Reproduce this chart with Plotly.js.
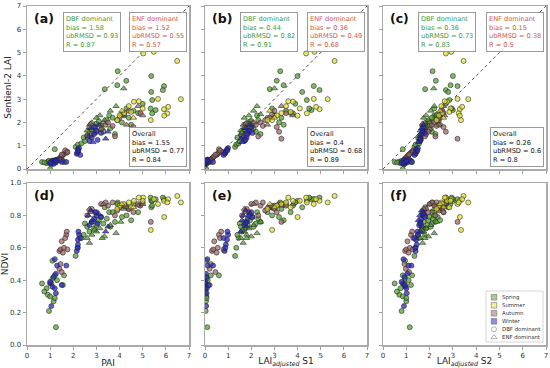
<!DOCTYPE html>
<html><head><meta charset="utf-8">
<script src="https://cdn.plot.ly/plotly-3.0.1.min.js"></script>
<style>body{margin:0;background:#fff;}#chart{width:550px;height:368px;}</style>
</head><body><div id="chart"></div>
<script>
// ---------------- DATA ----------------
// season: S=Spring, U=Summer, A=Autumn, W=Winter ; forest: D=DBF dominant, E=ENF dominant
const season = (
  "WWWWWWWWWWWW" + "WWWWWWW" + "WWWWWWWWWWWWW" +
  "SSSSSSSSSSSSSSSS" + "AAAAAAAAAAAA" +
  "SSSSSSSSSSSSSSSSSSSSSSSSSSSS" + "SSSSSSSS" + "SSSSSSSSSSSSSS" +
  "UUUUUUUUUUUUUUUUUUUU" + "AAAAAAAAAAAAAAAAAAAAAA").split("");
const forest = (
  "DDDDDDDDDDDD" + "DDDDDDD" + "DDDDDDDEEEEEE" +
  "DDDDDDDDDDDDDDDD" + "DDDDDDDDDDDD" +
  "DDDDDDDDDDDDDDDDDEEEEEEEEEEE" + "DDDDDDDE" + "DDDDDDDDDDDDDD" +
  "DDDDDDDDDDDDDDDDDDEE" + "DDDDDDDDDDDDDDDDEEEEEE").split("");
const pai = [
  1.00,1.05,1.10,1.20,1.25,1.20,1.15,1.30,1.50,1.00,1.25,1.70,
  2.15,2.20,2.20,2.25,2.18,2.22,2.30,
  2.70,2.80,2.90,3.00,3.05,2.95,3.20, 2.65,2.75,2.85,3.10,3.40,3.50,
  0.65,0.85,0.90,0.95,1.00,1.05,1.10,1.15,1.20,1.25,1.20,1.30,0.75,1.55,1.60,1.10,
  1.40,1.45,1.50,1.55,1.60,1.70,1.72,1.65,1.45,1.40,1.75,1.50,
  2.10,2.20,2.35,2.50,2.60,2.70,2.80,2.90,3.00,3.10,3.20,3.30,3.45,3.60,3.80,2.45,3.55,
  2.60,2.70,2.80,3.00,3.15,3.35,3.60,3.85,4.05,2.90,3.25,
  3.36,3.92,4.29,3.90,5.37,5.92,5.87, 4.18,
  4.20,4.40,4.60,4.80,5.00,5.37,5.41,5.41,5.56,5.34,4.10,4.50,3.70,4.30,
  5.02,5.48,6.49,6.65,5.66,5.92,6.10,6.06,5.93,5.35,4.62,4.83,4.40,4.20,4.00,5.00,4.50,3.90, 4.60,4.10,
  2.60,2.80,3.20,3.40,3.50,3.70,3.90,4.00,4.20,4.40,4.60,4.80,5.35,4.90,3.00,3.80, 2.70,2.75,3.30,4.30,4.80,5.00];
const laiS1 = [
  0.02,0.05,0.03,0.08,0.04,0.10,0.06,0.12,0.15,0.01,0.07,0.35,
  0.85,0.90,0.95,1.00,0.88,0.97,0.80,
  1.70,1.80,1.85,1.90,1.75,2.00,2.05, 1.65,1.75,1.60,1.95,1.55,1.80,
  0.00,0.02,0.00,0.03,0.05,0.00,0.08,0.04,0.60,0.10,0.07,0.12,0.01,0.20,0.25,0.05,
  0.30,0.35,0.40,0.50,0.55,0.60,0.70,0.65,0.25,0.20,0.80,0.45,
  1.30,1.35,1.45,1.50,1.55,1.60,1.70,1.75,1.85,1.95,2.05,2.20,2.30,2.10,2.40,1.40,2.25,
  1.55,1.65,1.80,1.70,1.90,2.00,2.10,2.25,2.40,1.60,1.80,
  2.80,3.25,3.10,3.40,4.00,4.70,4.95, 3.00,
  3.00,3.30,3.50,3.70,3.90,4.20,4.40,3.80,4.60,4.50,3.20,3.40,2.70,2.90,
  4.37,4.73,5.60,5.30,4.70,4.95,4.80,4.40,4.00,2.90,3.80,3.60,3.50,3.30,3.10,4.10,3.70,2.70, 3.00,2.80,
  1.60,1.80,2.00,2.20,2.40,2.50,2.60,2.80,2.90,3.00,3.10,3.20,3.30,3.50,1.90,2.30, 1.70,1.75,2.10,2.70,3.30,3.80];
const laiS2 = [
  0.85,0.90,0.95,1.00,1.05,0.88,0.92,1.10,0.95,0.80,1.02,1.22,
  1.40,1.45,1.42,1.50,1.38,1.48,1.35,
  1.55,1.60,1.65,1.70,1.62,1.72,1.80, 1.58,1.66,1.52,1.75,1.60,1.70,
  0.50,0.75,0.70,0.80,0.85,0.90,0.95,1.00,0.85,1.15,1.00,1.10,0.60,1.20,1.25,0.95,
  0.95,1.00,1.05,1.10,1.15,1.20,1.25,1.30,0.92,0.98,1.28,1.12,
  1.35,1.40,1.55,1.60,1.65,1.70,1.75,1.85,1.90,1.95,2.00,2.10,2.15,2.05,2.25,1.50,2.20,
  1.60,1.70,1.80,1.75,1.85,1.95,2.05,2.20,2.30,1.65,1.80,
  1.81,2.13,2.27,2.90,3.00,3.20,2.70, 2.18,
  2.30,2.40,2.50,2.60,2.70,2.80,2.85,2.55,3.00,2.95,2.35,2.45,2.10,2.20,
  2.70,2.93,3.46,3.66,3.20,3.30,3.40,3.25,3.30,3.35,2.75,2.65,2.50,2.55,2.40,2.90,2.85,2.30, 2.60,2.45,
  1.80,1.85,2.00,2.10,2.20,2.30,2.40,2.45,2.50,2.55,2.60,2.70,3.20,2.50,1.95,2.25, 1.75,1.70,2.00,2.40,2.60,2.65];
const s2lai = [
  0.25,0.30,0.35,0.32,0.28,0.38,0.22,0.40,0.30,0.27,0.35,0.30,
  0.65,0.75,0.85,0.90,0.70,0.80,0.60,
  1.20,1.35,1.50,1.65,1.25,1.80,1.55, 1.40,1.75,1.15,1.90,1.30,1.60,
  0.30,0.25,0.32,0.35,0.00,0.20,0.28,0.34,0.85,0.38,0.30,0.40,0.28,0.35,0.30,0.36,
  0.45,0.50,0.55,0.60,0.65,0.70,0.75,0.80,0.40,0.38,0.72,0.62,
  0.95,1.05,1.10,1.20,1.45,1.60,1.70,1.80,1.95,2.05,1.85,1.60,2.10,1.75,1.50,1.35,2.30,
  1.65,1.90,2.00,2.20,2.30,2.10,2.50,2.70,2.35,1.55,1.75,
  3.43,4.20,3.79,3.60,3.99,3.56,3.39, 3.46,
  2.30,2.20,2.50,2.40,2.80,3.31,2.96,2.39,2.53,2.60,2.00,1.90,2.20,2.60,
  4.96,5.03,4.64,3.00,3.01,2.57,2.67,2.39,2.29,2.10,2.89,2.91,2.70,2.40,2.30,2.60,2.45,2.10, 2.20,2.50,
  1.40,1.50,1.70,1.90,2.00,1.85,2.10,2.20,2.35,2.50,1.80,1.60,1.30,2.40,1.60,1.40, 1.80,1.95,2.00,1.90,2.70,2.30];
const ndvi = [
  0.38,0.24,0.36,0.35,0.44,0.53,0.42,0.49,0.37,0.39,0.32,0.49,
  0.58,0.62,0.65,0.68,0.60,0.70,0.66,
  0.74,0.76,0.78,0.80,0.75,0.82,0.79, 0.80,0.83,0.77,0.81,0.70,0.73,
  0.38,0.35,0.31,0.21,0.30,0.38,0.41,0.27,0.43,0.11,0.29,0.40,0.33,0.37,0.43,0.52,
  0.58,0.59,0.64,0.57,0.60,0.68,0.70,0.66,0.50,0.47,0.59,0.45,
  0.55,0.60,0.66,0.75,0.73,0.70,0.76,0.72,0.74,0.77,0.79,0.75,0.78,0.73,0.76,0.68,0.82,
  0.66,0.63,0.68,0.70,0.72,0.67,0.74,0.69,0.76,0.71,0.66,
  0.85,0.88,0.86,0.87,0.89,0.90,0.91, 0.84,
  0.86,0.84,0.87,0.82,0.88,0.85,0.89,0.86,0.90,0.91,0.79,0.77,0.82,0.80,
  0.91,0.90,0.92,0.88,0.87,0.89,0.90,0.88,0.79,0.71,0.89,0.91,0.88,0.87,0.86,0.89,0.85,0.84, 0.85,0.87,
  0.80,0.84,0.87,0.88,0.86,0.88,0.83,0.85,0.86,0.84,0.82,0.87,0.76,0.86,0.82,0.80, 0.84,0.82,0.87,0.85,0.86,0.87];

const panelLetters = ["(a)","(b)","(c)","(d)","(e)","(f)"];
const dbfStats = [[1.58,0.93,0.87],[0.44,0.82,0.91],[0.36,0.73,0.83]];
const enfStats = [[1.52,0.55,0.57],[0.36,0.49,0.68],[0.15,0.38,0.5]];
const allStats = [[1.55,0.77,0.84],[0.4,0.68,0.89],[0.26,0.6,0.8]];
const seasonCodes = ["S","U","A","W"];
const drawOrder = ["S","A","W","U"];
const seasonNames = ["Spring","Summer","Autumn","Winter"];
const forestNames = ["DBF dominant","ENF dominant"];
const xTitles = ["PAI","LAI<sub><i>adjusted</i></sub> S1","LAI<sub><i>adjusted</i></sub> S2"];
const yTitles = ["Sentienl-2 LAI","NDVI"];

// ---------------- STYLE ----------------
const W=550, H=368;
const FONT = "DejaVu Sans, Liberation Sans, sans-serif";
const seasonFill = {S:"rgba(80,160,45,0.72)", U:"rgba(225,225,50,0.72)", A:"rgba(160,100,100,0.72)", W:"rgba(40,40,200,0.75)"};
const colPx = [[27,189],[205,367],[383,546]];
const rowPx = [[6,169],[183,345]];
const xCols = [pai, laiS1, laiS2];
const yRows = [s2lai, ndvi];

const traces = [];
const layout = {
  width: W, height: H, margin:{l:0,r:0,t:0,b:0},
  paper_bgcolor:"#fff", plot_bgcolor:"#fff", showlegend:false,
  font:{family:FONT, color:"#333"}, annotations:[], shapes:[]
};

for (let p=0; p<6; p++) {
  const c = p%3, r = Math.floor(p/3);
  const xn = "x"+(p?p+1:""), yn = "y"+(p?p+1:"");
  const xk = "xaxis"+(p?p+1:""), yk = "yaxis"+(p?p+1:"");
  const axBase = {showline:true, mirror:true, linecolor:"#aaa", linewidth:1.5, showgrid:false, zeroline:false,
    ticks:"outside", ticklen:3, tickwidth:0.8, tickcolor:"#888", tickfont:{size:7, color:"#333", family:FONT}};
  const xa = Object.assign({}, axBase, {domain:[colPx[c][0]/W, colPx[c][1]/W], anchor:yn, range:[0,7], dtick:1,
    showticklabels: r===1});
  if (r===1) xa.title = {text:xTitles[c], font:{size:9, color:"#222", family:FONT}, standoff:2};
  const ya = Object.assign({}, axBase, {domain:[1-rowPx[r][1]/H, 1-rowPx[r][0]/H], anchor:xn,
    range: r===0 ? [0,7] : [0,1], dtick: r===0 ? 1 : 0.2, tickformat: r===0 ? "d" : ".1f",
    showticklabels: c===0});
  if (c===0) ya.title = {text:yTitles[r], font:{size:9, color:"#222", family:FONT}, standoff:3};
  layout[xk] = xa; layout[yk] = ya;

  // 1:1 line
  if (r===0) traces.push({type:"scatter", mode:"lines", x:[0,7], y:[0,7], xaxis:xn, yaxis:yn,
    line:{color:"#222", width:0.8, dash:"dot"}, hoverinfo:"skip"});

  const X = xCols[c], Y = yRows[r];
  drawOrder.forEach(sc => {
    ["D","E"].forEach(fc => {
      const xs=[], ys=[];
      for (let i=0;i<season.length;i++) if (season[i]===sc && forest[i]===fc) { xs.push(X[i]); ys.push(Y[i]); }
      traces.push({type:"scatter", mode:"markers", x:xs, y:ys, xaxis:xn, yaxis:yn,
        marker:{symbol: fc==="D" ? "circle" : "triangle-up", size: fc==="D" ? 5 : 5.5,
          color: seasonFill[sc], line:{color:"rgba(35,35,35,0.8)", width:0.7}}});
    });
  });

  layout.annotations.push({xref:"paper", yref:"paper", x:(colPx[c][0]+5)/W, y:1-(rowPx[r][0]+12)/H,
    xanchor:"left", yanchor:"middle", text:"<b>"+panelLetters[p]+"</b>", showarrow:false,
    font:{size:12.5, color:"#111", family:FONT}});

  if (r===0) {
    const box = {xref:"paper", yref:"paper", showarrow:false, align:"left", bordercolor:"#999", borderwidth:1,
      borderpad:2, bgcolor:"rgba(255,255,255,0.9)"};
    const d = dbfStats[c], e = enfStats[c], a = allStats[c];
    layout.annotations.push(Object.assign({}, box, {x:[63,240,418][c]/W, y:1-12/H, xanchor:"left", yanchor:"top",
      text:"DBF dominant<br>bias = "+d[0]+"<br>ubRMSD = "+d[1]+"<br>R = "+d[2], font:{size:6.6, color:"#3c9a3c", family:FONT}}));
    layout.annotations.push(Object.assign({}, box, {x:(colPx[c][1]-2)/W, y:1-12/H, xanchor:"right", yanchor:"top",
      text:"ENF dominant<br>bias = "+e[0]+"<br>ubRMSD = "+e[1]+"<br>R = "+e[2], font:{size:6.6, color:"#d0594b", family:FONT}}));
    layout.annotations.push(Object.assign({}, box, {x:(colPx[c][1]-2)/W, y:1-167/H, xanchor:"right", yanchor:"bottom",
      text:"Overall<br>bias = "+a[0]+"<br>ubRMSD = "+a[1]+"<br>R = "+a[2], font:{size:6.6, color:"#111", family:FONT}}));
  }
}

// ---------- custom legend in panel (f) ----------
const legBox = [486, 291, 543, 342]; // px: left, top, right, bottom
layout.shapes.push({type:"rect", xref:"paper", yref:"paper", x0:legBox[0]/W, x1:legBox[2]/W, y0:1-legBox[3]/H, y1:1-legBox[1]/H,
  line:{color:"#ccc", width:0.8}, fillcolor:"rgba(0,0,0,0)", layer:"above"});
layout.xaxis7 = {domain:[legBox[0]/W, legBox[2]/W], range:[0,1], visible:false, anchor:"y7", fixedrange:true};
layout.yaxis7 = {domain:[1-legBox[3]/H, 1-legBox[1]/H], range:[0,1], visible:false, anchor:"x7", fixedrange:true};
const legLabels = seasonNames.concat(forestNames);
const legRowY = legLabels.map((_,k) => 1 - (6.3 + k*8.0)/(legBox[3]-legBox[1]));
const legSymX = (494-legBox[0])/(legBox[2]-legBox[0]);
traces.push({type:"scatter", mode:"markers", xaxis:"x7", yaxis:"y7",
  x: legLabels.map(()=>legSymX), y: legRowY,
  marker:{symbol:["square","square","square","square","circle-open","triangle-up-open"], size:[5.5,5.5,5.5,5.5,5,5.5],
    color: seasonCodes.map(s=>seasonFill[s]).concat(["#777","#777"]),
    line:{color:["#333","#333","#333","#333","#777","#777"], width:[0.6,0.6,0.6,0.6,0.8,0.8]}}, hoverinfo:"skip"});
legLabels.forEach((t,k) => layout.annotations.push({xref:"paper", yref:"y7", x:500/W, y:legRowY[k],
  xanchor:"left", yanchor:"middle", text:t, showarrow:false, font:{size:5.4, color:"#333", family:FONT}}));

Plotly.newPlot("chart", traces, layout, {staticPlot:true, displayModeBar:false});
</script></body></html>
